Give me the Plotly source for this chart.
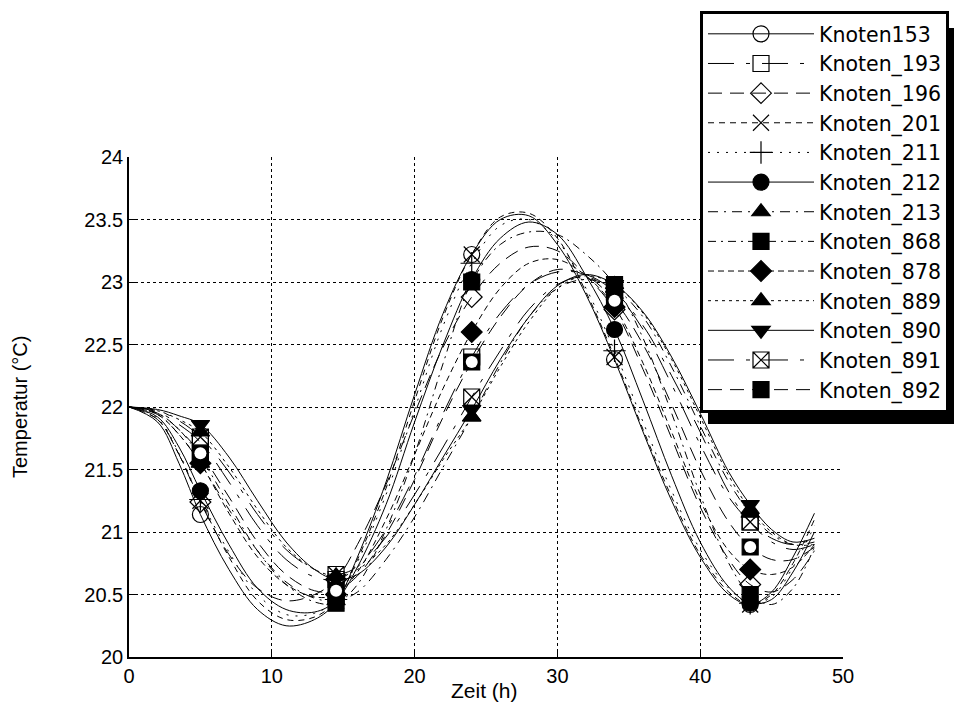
import plotly.graph_objects as go

# Zeit (h) – sample times
zeit = [0, 2, 3.5, 5, 7, 9, 11, 13, 14.5, 16, 18, 20, 22, 24, 26, 28, 30, 32, 34,
        36, 38, 40, 42, 43.5, 45, 46.5, 48]
# times at which the markers are drawn
marker_zeiten = [5, 14.5, 24, 34, 43.5]

k153 = [22.00, 21.88, 21.55, 21.14, 20.70, 20.38, 20.25, 20.30, 20.44, 20.80, 21.40, 22.10, 22.75, 23.22,
        23.50, 23.53, 23.30, 22.90, 22.38, 21.80, 21.25, 20.80, 20.50, 20.42, 20.52, 20.80, 21.15]
k193 = [22.00, 21.96, 21.86, 21.72, 21.40, 21.05, 20.78, 20.64, 20.62, 20.72, 21.02, 21.45, 21.95, 22.40,
        22.75, 22.98, 23.08, 23.06, 22.92, 22.62, 22.18, 21.70, 21.28, 21.08, 20.95, 20.90, 20.95]
k196 = [22.00, 21.90, 21.62, 21.24, 20.82, 20.55, 20.45, 20.50, 20.62, 20.90, 21.38, 21.95, 22.48, 22.88,
        23.15, 23.28, 23.25, 23.05, 22.78, 22.30, 21.75, 21.20, 20.78, 20.58, 20.52, 20.62, 20.85]
k201 = [22.00, 21.90, 21.62, 21.25, 20.80, 20.45, 20.30, 20.32, 20.45, 20.78, 21.35, 22.05, 22.72, 23.22,
        23.52, 23.55, 23.35, 22.92, 22.40, 21.82, 21.28, 20.82, 20.52, 20.42, 20.50, 20.75, 21.10]
k211 = [22.00, 21.91, 21.63, 21.26, 20.84, 20.50, 20.34, 20.35, 20.46, 20.76, 21.30, 21.98, 22.65, 23.15,
        23.45, 23.50, 23.33, 22.95, 22.45, 21.88, 21.33, 20.86, 20.55, 20.43, 20.48, 20.72, 21.05]
k212 = [22.00, 21.92, 21.68, 21.33, 20.90, 20.55, 20.38, 20.36, 20.45, 20.72, 21.22, 21.88, 22.50, 23.02,
        23.35, 23.48, 23.38, 23.05, 22.62, 22.05, 21.45, 20.92, 20.56, 20.43, 20.46, 20.68, 21.00]
k213 = [22.00, 21.94, 21.78, 21.55, 21.18, 20.85, 20.60, 20.47, 20.45, 20.52, 20.78, 21.12, 21.52, 21.92,
        22.35, 22.72, 22.95, 23.02, 22.95, 22.72, 22.32, 21.85, 21.40, 21.15, 20.98, 20.90, 20.92]
k868 = [22.00, 21.95, 21.82, 21.60, 21.22, 20.85, 20.58, 20.44, 20.43, 20.58, 21.02, 21.62, 22.35, 23.00,
        23.30, 23.40, 23.38, 23.22, 22.98, 22.55, 21.95, 21.30, 20.75, 20.50, 20.42, 20.55, 20.88]
k878 = [22.00, 21.94, 21.78, 21.55, 21.15, 20.80, 20.58, 20.48, 20.50, 20.68, 21.10, 21.62, 22.15, 22.60,
        22.95, 23.15, 23.18, 23.05, 22.80, 22.35, 21.80, 21.25, 20.85, 20.70, 20.66, 20.72, 20.90]
k889 = [22.00, 21.97, 21.90, 21.80, 21.52, 21.18, 20.88, 20.70, 20.65, 20.70, 20.90, 21.22, 21.58, 21.92,
        22.32, 22.68, 22.95, 23.05, 22.98, 22.75, 22.38, 21.92, 21.45, 21.18, 21.00, 20.90, 20.90]
k890 = [22.00, 21.98, 21.93, 21.86, 21.60, 21.25, 20.92, 20.70, 20.62, 20.66, 20.88, 21.22, 21.60, 21.98,
        22.38, 22.72, 22.97, 23.06, 22.98, 22.76, 22.40, 21.95, 21.48, 21.22, 21.02, 20.92, 20.95]
k891 = [22.00, 21.97, 21.89, 21.76, 21.48, 21.14, 20.86, 20.70, 20.66, 20.72, 20.96, 21.30, 21.68, 22.08,
        22.45, 22.78, 22.98, 23.04, 22.92, 22.65, 22.25, 21.80, 21.32, 21.08, 20.92, 20.86, 20.90]
k892 = [22.00, 21.95, 21.82, 21.63, 21.28, 20.92, 20.66, 20.53, 20.53, 20.65, 20.98, 21.42, 21.92, 22.36,
        22.72, 22.98, 23.10, 23.05, 22.85, 22.50, 22.02, 21.50, 21.08, 20.88, 20.78, 20.78, 20.88]

# name, values, dash, marker symbol
serien = [
    ("Knoten153", k153, "solid", "circle-open"),
    ("Knoten_193", k193, "26px,12px,4px,12px", "square-open"),
    ("Knoten_196", k196, "14px,8px", "diamond-open"),
    ("Knoten_201", k201, "6px,5px", "x-thin-open"),
    ("Knoten_211", k211, "2px,7px", "cross-thin-open"),
    ("Knoten_212", k212, "solid", "circle"),
    ("Knoten_213", k213, "10px,6px,2px,6px", "triangle-up"),
    ("Knoten_868", k868, "8px,5px,2px,5px", "square"),
    ("Knoten_878", k878, "6px,4px", "diamond"),
    ("Knoten_889", k889, "3px,4px", "triangle-up"),
    ("Knoten_890", k890, "solid", "triangle-down"),
    ("Knoten_891", k891, "26px,12px,4px,12px", "square-x-open"),
    ("Knoten_892", k892, "14px,8px", "square"),
]

MS = 16
sizes = [MS if t in marker_zeiten else 0 for t in zeit]

fig = go.Figure()
for name, vals, dash, sym in serien:
    fig.add_trace(go.Scatter(
        x=zeit, y=vals, name=name, mode="lines+markers", showlegend=False,
        line=dict(color="black", width=1, dash=dash, shape="spline", smoothing=1.0),
        marker=dict(symbol=sym, size=sizes, color="black", opacity=1,
                    line=dict(color="black", width=1.2)),
    ))

# white circle inside the black square of Knoten_892
fig.add_trace(go.Scatter(
    x=[t for t in zeit if t in marker_zeiten],
    y=[v for t, v in zip(zeit, k892) if t in marker_zeiten],
    mode="markers", showlegend=False, hoverinfo="skip",
    marker=dict(symbol="circle", size=12, color="white", opacity=1, line=dict(width=0)),
))

# legend entries (no data points of their own)
for name, vals, dash, sym in serien:
    fig.add_trace(go.Scatter(
        x=[None], y=[None], name=name, mode="lines+markers",
        line=dict(color="black", width=1, dash=dash),
        marker=dict(symbol=sym, size=MS, color="black", opacity=1,
                    line=dict(color="black", width=1.2)),
    ))

font = "Liberation Sans, Arial, Helvetica, sans-serif"
legend_font = "DejaVu Sans, Liberation Sans, Arial, sans-serif"

# page coordinates (the page body adds an 8px offset in the screenshot)
W, H = 962, 710
x0, x1 = 121, 835
y0, y1 = 149, 649
def px(x):
    return (x - x0) / (x1 - x0)
def py(y):
    return (y1 - y) / (y1 - y0)

# legend shadow
fig.add_shape(type="rect", xref="paper", yref="paper",
              x0=px(700), x1=px(975), y0=py(416), y1=py(20),
              fillcolor="black", line=dict(width=0), layer="below")

fig.update_layout(
    width=W, height=H,
    margin=dict(l=x0, r=W - x1, t=y0, b=H - y1, autoexpand=False),
    paper_bgcolor="white", plot_bgcolor="white",
    font=dict(family=font, size=18, color="black"),
    showlegend=True,
    legend=dict(
        xref="container", yref="container",
        x=692 / W, y=1 - 3 / H, xanchor="left", yanchor="top",
        bgcolor="white", bordercolor="black", borderwidth=3,
        font=dict(family=legend_font, size=20.5, color="black"),
        itemwidth=106, tracegroupgap=0, maxheight=650,
    ),
    xaxis=dict(
        range=[0, 50], tickvals=[0, 10, 20, 30, 40, 50],
        showgrid=True, gridcolor="black", gridwidth=1.3, griddash="3px,3px",
        showline=True, linecolor="black", linewidth=1.5, mirror=False,
        ticks="inside", ticklen=6, tickcolor="black",
        zeroline=False, tickfont=dict(size=20),
    ),
    yaxis=dict(
        range=[20, 24], tickvals=[20, 20.5, 21, 21.5, 22, 22.5, 23, 23.5, 24],
        ticktext=["20", "20.5", "21", "21.5", "22", "22.5", "23", "23.5", "24"],
        showgrid=True, gridcolor="black", gridwidth=1.3, griddash="3px,3px",
        showline=True, linecolor="black", linewidth=1.5, mirror=False,
        ticks="inside", ticklen=6, tickcolor="black",
        zeroline=False, tickfont=dict(size=20),
    ),
    annotations=[
        dict(text="Zeit (h)", xref="paper", yref="paper", x=px(476), y=py(682),
             xanchor="center", yanchor="middle", showarrow=False, font=dict(size=21)),
        dict(text="Temperatur (°C)", xref="paper", yref="paper", x=px(12), y=py(399),
             xanchor="center", yanchor="middle", showarrow=False, textangle=-90,
             font=dict(size=20)),
    ],
)

fig.write_html("out.html")
